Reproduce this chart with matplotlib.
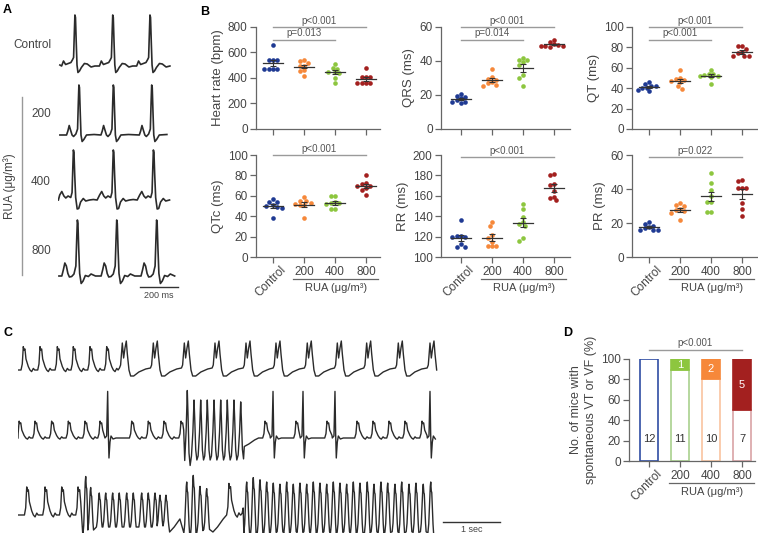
import matplotlib.pyplot as plt
import numpy as np

plt.rcParams['font.family'] = ['Liberation Sans', 'DejaVu Sans']

W, H = 758, 533
STEP = 31.0  # px between group positions in the dot plots

GROUPS = ['Control', '200', '400', '800']
COLORS = ['#1F3A93', '#F6883A', '#8DC63F', '#A3201F']
D_COLORS = ['#1F3A93', '#8DC63F', '#F6883A', '#A3201F']
D_EDGE = ['#2F4DA3', '#A9D18E', '#F9C4A0', '#D9A3A6']

# ---- panel B values ----
heart_rate = [[656, 540, 540, 540, 470, 470, 470, 470],
              [538, 530, 520, 497, 497, 460, 458, 416],
              [507, 475, 473, 450, 445, 440, 398, 362],
              [476, 408, 408, 408, 361, 361, 361, 361]]
qrs = [[20.5, 19.5, 19, 18, 17, 16, 16, 15.5],
       [35.3, 30.5, 29.5, 29, 27.5, 27, 26, 25.5],
       [41.8, 40.5, 40.4, 39.2, 37.6, 32, 30, 25.5],
       [52.5, 51, 50, 49.5, 49, 49, 48.8, 48.5]]
qt = [[46.4, 44.4, 42.5, 41.8, 40.5, 40, 38.5, 37],
      [57.5, 50, 49, 48, 47, 45.7, 42, 39],
      [58, 54, 54, 52.5, 52, 51.5, 50.5, 44.4],
      [81.7, 81, 78.4, 75, 74.5, 71.2, 71.2, 71.2]]
qtc = [[56.5, 54, 53.8, 50.5, 50, 49, 48.5, 38.7],
       [58.4, 55, 54.8, 52.5, 52, 50.5, 50.5, 38],
       [60, 59.5, 54, 53, 52.5, 52, 47, 47],
       [80, 73, 72, 70, 69.5, 68, 65.5, 60.6]]
rr = [[136.5, 121, 121, 120, 119.5, 113, 110, 110],
      [134, 130, 122, 119, 115, 110.5, 110.5, 110.5],
      [152, 147, 139.7, 134, 132, 130, 119, 115.6],
      [181.4, 180, 172, 171, 165, 159, 158, 155.4]]
pr = [[20.5, 19.5, 18.5, 17.6, 17, 16, 15.6, 15.6],
      [31.6, 30.5, 29.9, 28, 27.7, 27, 26, 21.5],
      [49.2, 43.4, 39.5, 36, 32.2, 32.2, 26.4, 26.4],
      [45.5, 44.5, 40.6, 40.6, 40.6, 32, 28.3, 24.4]]

hr_brackets = [(0, 3, 800, 'p<0.001'), (0, 2, 700, 'p=0.013')]
qrs_brackets = [(0, 3, 60, 'p<0.001'), (0, 2, 52.5, 'p=0.014')]
qt_brackets = [(0, 3, 100, 'p<0.001'), (0, 2, 87.5, 'p<0.001')]
qtc_brackets = [(0, 3, 100, 'p<0.001')]
rr_brackets = [(0, 3, 198, 'p<0.001')]
pr_brackets = [(0, 3, 58.6, 'p=0.022')]

# ---- panel D ----
no_vt_counts = [12, 11, 10, 7]
vt_counts = [0, 1, 2, 5]
vt_pct = [0, 11, 20, 50]
d_brackets = [(0, 3, 109, 'p<0.001')]

# ---- panel A ECG beats: (ms from R peak, amplitude) ----
BEAT_A = {
    'ctrl': [(-70, -0.02), (-60, 0.08), (-49, 0.01), (-35, 0.03), (-21, 0.05), (-12, 0.11),
             (-7, 0.15), (-3, 0.65), (0, 1.0), (3, 0.95), (7, 0.45), (11, 0.0), (16, -0.15),
             (24, -0.12), (34, -0.05), (50, 0.03), (65, 0.02), (85, -0.04), (105, -0.02)],
    'r200': [(-65, 0.0), (-58, 0.08), (-51, 0.19), (-44, 0.1), (-36, 0.0), (-28, -0.03),
             (-16, 0.02), (-7, 0.12), (-3, 0.65), (0, 1.0), (3, 0.95), (7, 0.45), (11, 0.0),
             (17, -0.13), (26, -0.09), (40, 0.0), (80, 0.01)],
    'r400': [(-85, 0.0), (-72, 0.1), (-61, 0.17), (-50, 0.08), (-40, 0.04), (-28, 0.08),
             (-14, 0.05), (-7, 0.15), (-3, 0.65), (0, 1.0), (3, 0.95), (7, 0.5), (12, 0.05),
             (20, -0.18), (28, -0.17), (38, -0.04), (52, 0.03), (65, -0.02), (85, 0.0),
             (105, 0.01)],
    'r800': [(-82, 0.0), (-74, 0.12), (-66, 0.26), (-58, 0.2), (-50, 0.05), (-42, -0.02),
             (-30, -0.01), (-18, 0.04), (-8, 0.2), (-3, 0.8), (0, 1.12), (3, 1.05), (7, 0.55),
             (12, 0.05), (20, -0.15), (30, -0.1), (42, 0.01), (58, -0.01), (72, 0.04),
             (95, 0.0)],
}
A_ROWS = ['Control', '200', '400', '800']
A_KIND = ['ctrl', 'r200', 'r400', 'r800']
A_R_TIMES = [[89, 288, 484], [110, 291, 493], [81, 291, 502], [102, 309, 519]]
A_SPAN = [(10, 607), (10, 593), (2, 589), (5, 642)]

# ---- panel C ECG beats: (s from event, amplitude) ----
BEAT_C = {
    'a': [(-0.04, 0.0), (-0.018, 0.3), (0.0, 1.17), (0.012, 1.0), (0.029, 1.05), (0.047, 0.55),
          (0.088, 0.17), (0.117, 0.0), (0.146, -0.08), (0.176, 0.08), (0.2, 0.0)],
    'm': [(-0.05, 0.1), (-0.03, 0.25), (0.0, 1.35), (0.023, 0.6), (0.047, 1.1), (0.07, 1.45),
          (0.088, 0.8), (0.117, 0.0), (0.146, -0.3), (0.2, -0.3), (0.29, -0.1), (0.41, 0.05)],
    's': [(-0.047, 0.0), (-0.018, 0.1), (0.0, 2.33), (0.012, 0.2), (0.023, -1.0), (0.041, -0.2),
          (0.059, 0.1), (0.094, -0.05), (0.146, 0.0)],
    'v': [(-0.045, -0.9), (-0.02, 0.3), (0.0, 1.9), (0.012, 1.0), (0.03, -0.6), (0.05, -1.1)],
    'w': [(-0.05, -0.6), (-0.035, -0.3), (-0.02, 0.4), (-0.008, 0.95), (0.0, 1.1), (0.01, 0.8),
          (0.018, 0.75), (0.028, 0.3), (0.04, -0.3), (0.05, -0.6)],
    'rec': [(0.0, -0.85), (0.08, -0.6), (0.18, -0.2), (0.25, 0.0)],
}
C1_EVENTS = [(0.093, 'a', 1.0), (0.386, 'a', 1.0), (0.69, 'a', 1.0), (0.97, 'a', 1.0),
             (1.263, 'a', 1.0), (1.556, 'a', 1.0), (1.83, 'm', 1.0), (2.374, 'm', 1.0),
             (2.918, 'm', 1.0), (3.456, 'm', 1.0), (4.0, 'm', 1.0), (4.526, 'm', 1.0),
             (5.075, 'm', 1.0), (5.602, 'm', 1.0), (6.117, 'm', 1.0), (6.672, 'm', 1.0),
             (7.228, 'm', 1.0)]
C2_EVENTS = [(0.02, 'a', 0.72), (0.298, 'a', 0.72), (0.59, 'a', 0.72), (0.883, 'a', 0.72),
             (1.175, 'a', 0.72), (1.439, 'a', 0.72), (1.573, 's', 1.0), (1.995, 'a', 0.72),
             (2.286, 'a', 0.72), (2.561, 'a', 0.72), (2.86, 'a', 0.72),
             (2.97, 'v', 1.25), (3.088, 'v', 1.0), (3.205, 'v', 1.0), (3.321, 'v', 1.0),
             (3.439, 'v', 1.0), (3.556, 'v', 1.0), (3.672, 'v', 1.0), (3.789, 'v', 1.0),
             (3.907, 'v', 0.95), (3.97, 'rec', 0.5),
             (4.333, 'a', 0.72), (4.474, 's', 1.0), (4.877, 'a', 0.72), (5.0, 's', 1.0),
             (5.421, 'a', 0.72), (5.561, 's', 1.0), (5.947, 'a', 0.72), (6.228, 'a', 0.72),
             (6.509, 'a', 0.72), (6.789, 'a', 0.72), (7.088, 'a', 0.72), (7.228, 's', 1.0)]
C3_EVENTS = [(0.153, 'a', 1.2), (0.474, 'a', 1.2), (0.767, 'a', 1.2), (1.053, 'a', 1.2),
             (1.188, 'w', 1.75), (1.275, 'w', 1.25),
             (1.426, 'w', 1.0), (1.539, 'w', 1.0), (1.661, 'w', 1.0), (1.777, 'w', 1.0),
             (1.907, 'w', 1.0), (2.023, 'w', 1.0), (2.17, 'w', 1.0), (2.286, 'w', 1.0),
             (2.404, 'w', 1.0), (2.491, 'w', 0.9), (2.596, 'w', 0.9), (2.66, 'rec', 1.0),
             (2.96, 'w', 1.5), (3.075, 'w', 1.8), (3.193, 'w', 1.3), (3.31, 'w', 1.2),
             (3.42, 'rec', 1.0), (3.70, 'a', 1.35), (3.95, 'a', 0.3),
             (4.012, 'w', 1.5), (4.128, 'w', 1.7), (4.246, 'w', 1.6), (4.363, 'w', 1.5),
             (4.479, 'w', 1.45), (4.596, 'w', 1.4), (4.714, 'w', 1.5), (4.83, 'w', 1.4),
             (4.947, 'w', 1.45), (5.065, 'w', 1.4), (5.181, 'w', 1.5), (5.298, 'w', 1.45),
             (5.416, 'w', 1.4), (5.532, 'w', 1.5), (5.649, 'w', 1.45), (5.766, 'w', 1.4),
             (5.883, 'w', 1.5), (6.0, 'w', 1.45), (6.128, 'w', 1.5), (6.246, 'w', 1.4),
             (6.368, 'w', 1.5), (6.486, 'w', 1.45), (6.614, 'w', 1.4), (6.732, 'w', 1.5),
             (6.86, 'w', 1.4), (6.982, 'w', 1.45), (7.11, 'w', 1.4), (7.241, 'w', 1.5)]
C_SPAN = (0.0, 7.37)

fig = plt.figure(figsize=(W / 100, H / 100), dpi=100)


def px_axes(l, t, r, b):
    return fig.add_axes([l / W, 1 - b / H, (r - l) / W, (b - t) / H])


def fig_text(x, y, s, **kw):
    fig.text(x / W, 1 - y / H, s, **kw)


def build_trace(events, beats, t0, t1):
    ts, vs = [t0], [0.0]
    for i, (t, kind, g) in enumerate(events):
        if i + 1 < len(events):
            nt, nk, _ = events[i + 1]
            stop = nt + beats[nk][0][0]
        else:
            stop = t1
        for dt, v in beats[kind]:
            tt = t + dt
            if ts[-1] < tt < stop and tt <= t1:
                ts.append(tt)
                vs.append(v * g)
    return ts, vs


def swarm(vals, ypx, d=4.4):
    vals = np.asarray(vals, float)
    cand = [0.0]
    for k in range(1, 10):
        cand += [-k * d / 2, k * d / 2]
    placed = []
    off = np.zeros(len(vals))
    for idx in np.argsort(-vals):
        y = vals[idx] * ypx
        for c in cand:
            if all((c - px) ** 2 + (y - py) ** 2 >= (0.95 * d) ** 2 for px, py in placed):
                break
        placed.append((c, y))
        off[idx] = c / STEP
    return off


def style_axes(ax):
    ax.spines[['top', 'right']].set_visible(False)
    for s in ('left', 'bottom'):
        ax.spines[s].set_color('#666666')
        ax.spines[s].set_linewidth(0.9)
    ax.tick_params(length=4, width=0.9, color='#666666', labelsize=8.5,
                   labelcolor='#444444', pad=2)


def brackets(ax, items):
    for x1, x2, y, txt in items:
        ax.plot([x1, x2], [y, y], color='#9a9a9a', lw=1.0, clip_on=False)
        ax.annotate(txt, xy=((x1 + x2) / 2, y), xytext=(0, 1), textcoords='offset points',
                    ha='center', va='bottom', fontsize=7, color='#555555',
                    annotation_clip=False)


def group_labels(ax, height_px):
    tr = ax.get_xaxis_transform()
    ax.annotate('Control', xy=(0, 0), xycoords=tr, xytext=(7, -7), textcoords='offset pixels',
                rotation=45, rotation_mode='anchor', ha='right', va='top',
                fontsize=8.5, color='#444444', annotation_clip=False)
    for i in range(1, 4):
        ax.annotate(GROUPS[i], xy=(i, 0), xycoords=tr, xytext=(0, -9),
                    textcoords='offset pixels', ha='center', va='top',
                    fontsize=8.5, color='#444444', annotation_clip=False)
    yl = -22 / height_px
    ax.plot([0.65, 3.4], [yl, yl], transform=tr, color='#666666', lw=0.9, clip_on=False)
    ax.text(2.02, -26 / height_px, 'RUA (μg/m³)', transform=tr, ha='center', va='top',
            fontsize=8, color='#444444')


def dot_panel(box, x0, data, ylim, yticks, ylabel, brk, bottom):
    l, t, r, b = box
    ax = px_axes(l, t, r, b)
    ax.set_xlim((l - x0) / STEP, (r - x0) / STEP)
    ax.set_ylim(ylim)
    ax.set_yticks(yticks)
    ax.set_xticks(range(4))
    ax.set_xticklabels([])
    style_axes(ax)
    ax.set_ylabel(ylabel, fontsize=9.5, color='#444444', labelpad=3)
    ypx = (b - t) / (ylim[1] - ylim[0])
    for i, vals in enumerate(data):
        ax.scatter(i + swarm(vals, ypx), vals, s=11, color=COLORS[i], lw=0,
                   zorder=3, clip_on=False)
        m = np.mean(vals)
        se = np.std(vals, ddof=1) / np.sqrt(len(vals))
        ax.plot([i - 0.32, i + 0.32], [m, m], color='#333333', lw=0.9, zorder=4)
        ax.errorbar(i, m, yerr=se, fmt='none', ecolor='#333333', elinewidth=0.8,
                    capsize=2.5, capthick=0.8, zorder=4)
    brackets(ax, brk)
    if bottom:
        group_labels(ax, b - t)
    return ax


# ---------------- panel A ----------------
MS_PER_PX = 200 / 38.0
A_LEFT, A_RIGHT = 58, 180
A_TOPS = [5, 75, 140, 216]
for k in range(4):
    ax = px_axes(A_LEFT, A_TOPS[k], A_RIGHT, A_TOPS[k] + 80)
    ev = [(t, A_KIND[k], 1.0) for t in A_R_TIMES[k]]
    ts, vs = build_trace(ev, BEAT_A, *A_SPAN[k])
    ax.plot(ts, vs, color='#2b2b2b', lw=1.2)
    ax.set_xlim(0, (A_RIGHT - A_LEFT) * MS_PER_PX)
    ax.set_ylim(-0.4, 1.2)
    ax.axis('off')
    if k == 3:
        xs = (140 - A_LEFT) * MS_PER_PX
        ax.plot([xs, xs + 200], [-0.22, -0.22], color='#333333', lw=1.0, clip_on=False)
        ax.text(xs + 100, -0.3, '200 ms', ha='center', va='top', fontsize=6.5, color='#444444')

fig_text(3, 10, 'A', fontsize=9, fontweight='bold', va='center')
fig_text(13, 45, 'Control', fontsize=8.5, color='#444444', va='center')
for lab, y in zip(A_ROWS[1:], [114, 182, 251]):
    fig_text(31, y, lab, fontsize=8.5, color='#444444', va='center')
fig.add_artist(plt.Line2D([22 / W, 22 / W], [1 - 97 / H, 1 - 275 / H], color='#999999', lw=1.0))
fig_text(10, 186, 'RUA (μg/m³)', fontsize=8.5, color='#444444', rotation=90,
         ha='center', va='center')

# ---------------- panel B ----------------
fig_text(200, 12, 'B', fontsize=9, fontweight='bold', va='center')
dot_panel((256, 27, 380, 129), 273, heart_rate, (0, 800), range(0, 801, 200),
          'Heart rate (bpm)', hr_brackets, False)
dot_panel((441, 27, 570, 129), 461, qrs, (0, 60), range(0, 61, 20),
          'QRS (ms)', qrs_brackets, False)
dot_panel((632, 27, 757, 129), 649, qt, (0, 100), range(0, 101, 20),
          'QT (ms)', qt_brackets, False)
dot_panel((256, 155, 380, 257), 273, qtc, (0, 100), range(0, 101, 20),
          'QTc (ms)', qtc_brackets, True)
dot_panel((441, 155, 570, 257), 461, rr, (100, 200), range(100, 201, 20),
          'RR (ms)', rr_brackets, True)
dot_panel((632, 155, 757, 257), 649, pr, (0, 60), range(0, 61, 20),
          'PR (ms)', pr_brackets, True)

# ---------------- panel C ----------------
fig_text(3, 333, 'C', fontsize=9, fontweight='bold', va='center')
C_PX_PER_S = 57.0
C_LEFT, C_RIGHT = 18, 500
C_BASE = [370, 438, 515]
for k, ev in enumerate([C1_EVENTS, C2_EVENTS, C3_EVENTS]):
    ax = px_axes(C_LEFT, C_BASE[k] - 60, C_RIGHT, C_BASE[k] + 40)
    ts, vs = build_trace(ev, BEAT_C, *C_SPAN)
    ax.plot(ts, vs, color='#2b2b2b', lw=1.0)
    ax.set_xlim(0, (C_RIGHT - C_LEFT) / C_PX_PER_S)
    ax.set_ylim(-2, 3)
    ax.axis('off')
    if k == 2:
        xs = (443 - C_LEFT) / C_PX_PER_S
        ax.plot([xs, xs + 1], [-0.35, -0.35], color='#333333', lw=1.0, clip_on=False)
        ax.text(xs + 0.5, -0.5, '1 sec', ha='center', va='top', fontsize=6.5, color='#444444')

# ---------------- panel D ----------------
fig_text(563, 333, 'D', fontsize=9, fontweight='bold', va='center')
l, t, r, b = 629, 359, 755, 461
axd = px_axes(l, t, r, b)
axd.set_xlim((l - 649) / STEP, (r - 649) / STEP)
axd.set_ylim(0, 100)
axd.set_yticks(range(0, 101, 20))
axd.set_xticks(range(4))
axd.set_xticklabels([])
style_axes(axd)
axd.set_ylabel('No. of mice with\nspontaneous VT or VF (%)', fontsize=9,
               color='#444444', labelpad=3, linespacing=1.3)
for i in range(4):
    low = 100 - vt_pct[i]
    axd.bar(i, low, width=0.55, facecolor='white', edgecolor=D_EDGE[i], lw=1.2, zorder=2)
    axd.text(i, 22, str(no_vt_counts[i]), ha='center', va='center', fontsize=8,
             color='#333333', zorder=4)
    if vt_counts[i] > 0:
        axd.bar(i, vt_pct[i], bottom=low, width=0.55, color=D_COLORS[i],
                edgecolor=D_COLORS[i], lw=1.2, zorder=3)
        axd.text(i, low + vt_pct[i] / 2, str(vt_counts[i]), ha='center', va='center',
                 fontsize=8, color='white', zorder=4)
brackets(axd, d_brackets)
group_labels(axd, b - t)

fig.savefig('out.png', dpi=100)
